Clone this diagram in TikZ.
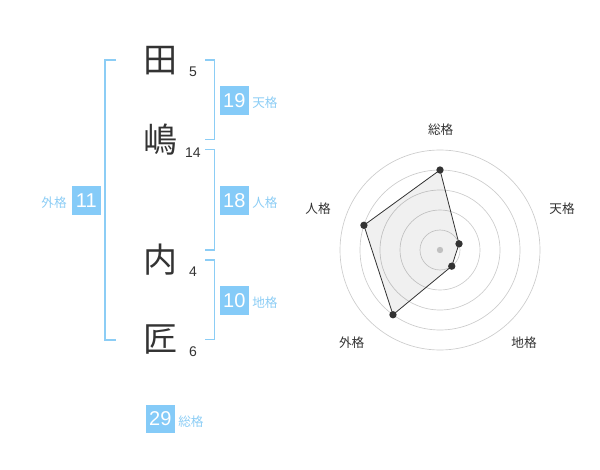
\documentclass[tikz,border=0pt]{standalone}
\usepackage{fontspec}
\setmainfont{Liberation Sans}
\newfontfamily\cjk{Noto Sans CJK JP}
\definecolor{boxblue}{HTML}{85CBF8}
\definecolor{lblblue}{HTML}{8CCDF5}
\definecolor{txt}{HTML}{333333}
\definecolor{ring}{HTML}{CCCCCC}
\begin{document}
\begin{tikzpicture}[x=0.75pt,y=-0.75pt,
  bigchar/.style={font=\cjk\fontsize{25.5}{25.5}\selectfont,text=txt,inner sep=0pt},
  stroke/.style={font=\fontsize{10.5}{10.5}\selectfont,text=txt,inner sep=0pt},
  numbox/.style={fill=boxblue,text=white,minimum width=21.5pt,minimum height=21.5pt,inner sep=0pt,font=\fontsize{15}{15}\selectfont},
  kaku/.style={font=\cjk\fontsize{9.5}{9.5}\selectfont,text=lblblue,inner sep=0pt},
  brk/.style={draw=lblblue,line width=1.2pt},
  radlbl/.style={font=\cjk\fontsize{9.5}{9.5}\selectfont,text=txt,inner sep=0pt},
  rings/.style={draw=ring,line width=0.5pt},
  pt/.style={circle,fill=txt,inner sep=0pt,minimum size=5.5pt}]
\useasboundingbox (0,0) rectangle (600,470);
% characters
\node[bigchar] (c1) at (160,61) {田};
\node[bigchar] (c2) at (160,140) {嶋};
\node[bigchar] (c3) at (160,260) {内};
\node[bigchar] (c4) at (160,340) {匠};
\node[stroke] (s1) at (193,72) {5};
\node[stroke] (s2) at (193,153) {14};
\node[stroke] (s3) at (193,272) {4};
\node[stroke] (s4) at (193,352) {6};
% brackets
\coordinate (l1) at (116,60); \coordinate (l2) at (116,340);
\draw[brk] (l1) -- ++(-11,0) |- (l2);
\coordinate (t1) at (205,60); \coordinate (t2) at (205,139.5);
\draw[brk] (t1) -- ++(9.5,0) |- (t2);
\coordinate (h1) at (205,149.5); \coordinate (h2) at (205,250);
\draw[brk] (h1) -- ++(9.5,0) |- (h2);
\coordinate (g1) at (205,260); \coordinate (g2) at (205,339.5);
\draw[brk] (g1) -- ++(9.5,0) |- (g2);
% boxes
\node[numbox] (b19) at (234.3,100.3) {19};
\node[kaku,anchor=west] (k19) at (252,103) {天格};
\node[numbox] (b18) at (234.3,200.3) {18};
\node[kaku,anchor=west] (k18) at (252,203) {人格};
\node[numbox] (b10) at (234.3,300.3) {10};
\node[kaku,anchor=west] (k10) at (252,303) {地格};
\node[numbox] (b11) at (86.3,200.3) {11};
\node[kaku,anchor=east] (k11) at (67,203) {外格};
\node[numbox] (b29) at (160.3,419) {29};
\node[kaku,anchor=west] (k29) at (178,422) {総格};
% radar
\coordinate (O) at (440,250);
\foreach \r in {20,40,60,80,100} \draw[rings] (O) circle[radius=\r];
\fill[ring] (O) circle[radius=3.2];
\path (O) ++(0,-80) coordinate (p1);
\path (O) ++({20*cos(18)},{-20*sin(18)}) coordinate (p2);
\path (O) ++({20*cos(-54)},{-20*sin(-54)}) coordinate (p3);
\path (O) ++({80*cos(-126)},{-80*sin(-126)}) coordinate (p4);
\path (O) ++({80*cos(162)},{-80*sin(162)}) coordinate (p5);
\fill[black,opacity=0.06] (p1) -- (p2) -- (p3) -- (p4) -- (p5) -- cycle;
\draw[txt,line width=0.6pt] (p1) -- (p2) -- (p3) -- (p4) -- (p5) -- cycle;
\foreach \p in {p1,p2,p3,p4,p5} \node[pt] at (\p) {};
\node[radlbl] (r1) at (440.7,130) {総格};
\node[radlbl] (r2) at (562,208.5) {天格};
\node[radlbl] (r3) at (524,342.3) {地格};
\node[radlbl] (r4) at (351.7,342.3) {外格};
\node[radlbl] (r5) at (318,208.5) {人格};
\end{tikzpicture}
\end{document}
